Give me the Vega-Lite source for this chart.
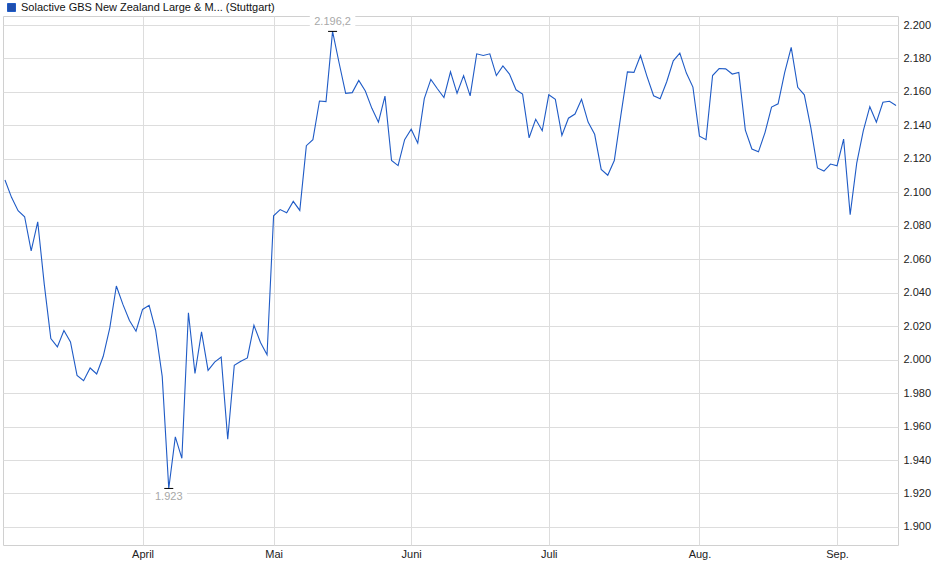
{
  "$schema": "https://vega.github.io/schema/vega-lite/v6.json",
  "width": 895,
  "height": 529,
  "autosize": {"type": "none"},
  "padding": {"left": 3, "top": 16, "right": 42, "bottom": 34},
  "background": "white",
  "config": {
    "locale": {"number": {"decimal": ",", "thousands": ".", "grouping": [3], "currency": ["", " €"]}},
    "font": "Liberation Sans",
    "view": {"stroke": "#d0d0d0", "strokeWidth": 1},
    "axis": {"gridColor": "#dddddd", "gridWidth": 1, "domain": false, "ticks": false, "labelFont": "Liberation Sans", "labelFontSize": 11, "labelColor": "#222222", "title": null, "labelOverlap": false}
  },
  "data": {"values": [
    {"t": 0, "v": 2107.4}, {"t": 1, "v": 2097}, {"t": 2, "v": 2089}, {"t": 3, "v": 2085.4}, {"t": 4, "v": 2065},
    {"t": 5, "v": 2082.4}, {"t": 6, "v": 2045}, {"t": 7, "v": 2012.6}, {"t": 8, "v": 2007.6}, {"t": 9, "v": 2017.4},
    {"t": 10, "v": 2010.6}, {"t": 11, "v": 1990.6}, {"t": 12, "v": 1987.4}, {"t": 13, "v": 1995}, {"t": 14, "v": 1991.4},
    {"t": 15, "v": 2002}, {"t": 16, "v": 2019}, {"t": 17, "v": 2044}, {"t": 18, "v": 2033}, {"t": 19, "v": 2023.4},
    {"t": 20, "v": 2017}, {"t": 21, "v": 2030}, {"t": 22, "v": 2032.5}, {"t": 23, "v": 2017.5}, {"t": 24, "v": 1990},
    {"t": 25, "v": 1923}, {"t": 26, "v": 1953.8}, {"t": 27, "v": 1941}, {"t": 28, "v": 2028}, {"t": 29, "v": 1991.7},
    {"t": 30, "v": 2016.6}, {"t": 31, "v": 1993.6}, {"t": 32, "v": 1998.5}, {"t": 33, "v": 2001.5}, {"t": 34, "v": 1952.4},
    {"t": 35, "v": 1996.6}, {"t": 36, "v": 1999}, {"t": 37, "v": 2001}, {"t": 38, "v": 2020.5}, {"t": 39, "v": 2010.3},
    {"t": 40, "v": 2002.9}, {"t": 41, "v": 2086}, {"t": 42, "v": 2089.7}, {"t": 43, "v": 2087.8}, {"t": 44, "v": 2094.6},
    {"t": 45, "v": 2089.2}, {"t": 46, "v": 2127.9}, {"t": 47, "v": 2131.5}, {"t": 48, "v": 2154.6}, {"t": 49, "v": 2154.2},
    {"t": 50, "v": 2196.2}, {"t": 51, "v": 2177.3}, {"t": 52, "v": 2159.2}, {"t": 53, "v": 2159.6}, {"t": 54, "v": 2166.9},
    {"t": 55, "v": 2160.6}, {"t": 56, "v": 2150.2}, {"t": 57, "v": 2141.9}, {"t": 58, "v": 2157.5}, {"t": 59, "v": 2119},
    {"t": 60, "v": 2116}, {"t": 61, "v": 2131.5}, {"t": 62, "v": 2137.7}, {"t": 63, "v": 2129.4}, {"t": 64, "v": 2156},
    {"t": 65, "v": 2167.5}, {"t": 66, "v": 2161.9}, {"t": 67, "v": 2156.7}, {"t": 68, "v": 2172}, {"t": 69, "v": 2159.2},
    {"t": 70, "v": 2169.8}, {"t": 71, "v": 2157.7}, {"t": 72, "v": 2182.8}, {"t": 73, "v": 2181.8}, {"t": 74, "v": 2182.8},
    {"t": 75, "v": 2169.8}, {"t": 76, "v": 2175.5}, {"t": 77, "v": 2170.7}, {"t": 78, "v": 2161.3}, {"t": 79, "v": 2158.7},
    {"t": 80, "v": 2132.6}, {"t": 81, "v": 2143.7}, {"t": 82, "v": 2136.8}, {"t": 83, "v": 2158.3}, {"t": 84, "v": 2155.6},
    {"t": 85, "v": 2134}, {"t": 86, "v": 2144.3}, {"t": 87, "v": 2146.8}, {"t": 88, "v": 2155.6}, {"t": 89, "v": 2142},
    {"t": 90, "v": 2134.7}, {"t": 91, "v": 2113.7}, {"t": 92, "v": 2110.2}, {"t": 93, "v": 2119}, {"t": 94, "v": 2146},
    {"t": 95, "v": 2172}, {"t": 96, "v": 2171.7}, {"t": 97, "v": 2181.8}, {"t": 98, "v": 2169.2}, {"t": 99, "v": 2157.7},
    {"t": 100, "v": 2156}, {"t": 101, "v": 2166.1}, {"t": 102, "v": 2178.6}, {"t": 103, "v": 2183.2}, {"t": 104, "v": 2171.3},
    {"t": 105, "v": 2162.9}, {"t": 106, "v": 2133.6}, {"t": 107, "v": 2131.5}, {"t": 108, "v": 2169.8}, {"t": 109, "v": 2174},
    {"t": 110, "v": 2173.8}, {"t": 111, "v": 2170.7}, {"t": 112, "v": 2171.7}, {"t": 113, "v": 2137.2}, {"t": 114, "v": 2125.9},
    {"t": 115, "v": 2124.2}, {"t": 116, "v": 2135.7}, {"t": 117, "v": 2151}, {"t": 118, "v": 2152.9}, {"t": 119, "v": 2171.5},
    {"t": 120, "v": 2186.6}, {"t": 121, "v": 2162.8}, {"t": 122, "v": 2158.3}, {"t": 123, "v": 2138.5}, {"t": 124, "v": 2114.6},
    {"t": 125, "v": 2112.7}, {"t": 126, "v": 2116.9}, {"t": 127, "v": 2115.9}, {"t": 128, "v": 2131.8}, {"t": 129, "v": 2086.7},
    {"t": 130, "v": 2117.5}, {"t": 131, "v": 2136.7}, {"t": 132, "v": 2151.2}, {"t": 133, "v": 2141.9}, {"t": 134, "v": 2153.8},
    {"t": 135, "v": 2154.4}, {"t": 136, "v": 2151.9}
  ]},
  "encoding": {
    "x": {
      "field": "t", "type": "quantitative",
      "scale": {"domain": [-0.3, 136.3], "nice": false, "zero": false},
      "axis": {
        "values": [21, 41, 62, 83, 106, 127],
        "labelExpr": "datum.value == 21 ? 'April' : datum.value == 41 ? 'Mai' : datum.value == 62 ? 'Juni' : datum.value == 83 ? 'Juli' : datum.value == 106 ? 'Aug.' : 'Sep.'",
        "grid": true, "labelPadding": 3, "labelFlush": false
      }
    },
    "y": {
      "field": "v", "type": "quantitative",
      "scale": {"domain": [1889.2, 2205.4], "nice": false, "zero": false},
      "axis": {
        "orient": "right",
        "values": [1900, 1920, 1940, 1960, 1980, 2000, 2020, 2040, 2060, 2080, 2100, 2120, 2140, 2160, 2180, 2200],
        "tickCount": 16,
        "format": ",.0f", "grid": true, "labelPadding": 5, "labelOverlap": false
      }
    }
  },
  "layer": [
    {
      "mark": {"type": "line", "strokeWidth": 1.1, "interpolate": "linear"},
      "encoding": {
        "color": {
          "datum": "Solactive GBS New Zealand Large & M... (Stuttgart)",
          "scale": {"range": ["#1f5bc6"]},
          "legend": {
            "title": null, "orient": "none", "legendX": 3, "legendY": -14,
            "symbolType": "square", "symbolSize": 64,
            "labelFont": "Liberation Sans", "labelFontSize": 11, "labelColor": "#111111",
            "labelLimit": 0, "labelOffset": 4,
            "encode": {"symbols": {"update": {"fill": {"value": "#1f4fae"}, "stroke": {"value": "#0d2660"}, "strokeWidth": {"value": 1}}}}
          }
        }
      }
    },
    {
      "transform": [
        {"joinaggregate": [{"op": "min", "field": "v", "as": "vmin"}]},
        {"filter": "datum.v == datum.vmin"}
      ],
      "mark": {"type": "point", "shape": "M-1.4,-0.5H1.4V0.5H-1.4Z", "size": 676, "filled": true, "fill": "white", "opacity": 1, "strokeWidth": 0, "yOffset": 9}
    },
    {
      "transform": [
        {"joinaggregate": [{"op": "max", "field": "v", "as": "vmax"}]},
        {"filter": "datum.v == datum.vmax"}
      ],
      "mark": {"type": "point", "shape": "M-1.75,-0.5H1.75V0.5H-1.75Z", "size": 676, "filled": true, "fill": "white", "opacity": 1, "strokeWidth": 0, "yOffset": -9}
    },
    {
      "transform": [
        {"joinaggregate": [{"op": "min", "field": "v", "as": "vmin"}, {"op": "max", "field": "v", "as": "vmax"}]},
        {"filter": "datum.v == datum.vmin || datum.v == datum.vmax"}
      ],
      "mark": {"type": "tick", "orient": "horizontal", "size": 9, "thickness": 1, "color": "#000000", "opacity": 1}
    },
    {
      "transform": [
        {"joinaggregate": [{"op": "min", "field": "v", "as": "vmin"}]},
        {"filter": "datum.v == datum.vmin"}
      ],
      "mark": {"type": "text", "baseline": "middle", "align": "center", "dy": 9, "fontSize": 11, "font": "Liberation Sans", "color": "#a8a8a8"},
      "encoding": {"text": {"field": "v", "type": "quantitative", "format": ",.1~f"}}
    },
    {
      "transform": [
        {"joinaggregate": [{"op": "max", "field": "v", "as": "vmax"}]},
        {"filter": "datum.v == datum.vmax"}
      ],
      "mark": {"type": "text", "baseline": "middle", "align": "center", "dy": -9, "fontSize": 11, "font": "Liberation Sans", "color": "#a8a8a8"},
      "encoding": {"text": {"field": "v", "type": "quantitative", "format": ",.1~f"}}
    }
  ]
}
